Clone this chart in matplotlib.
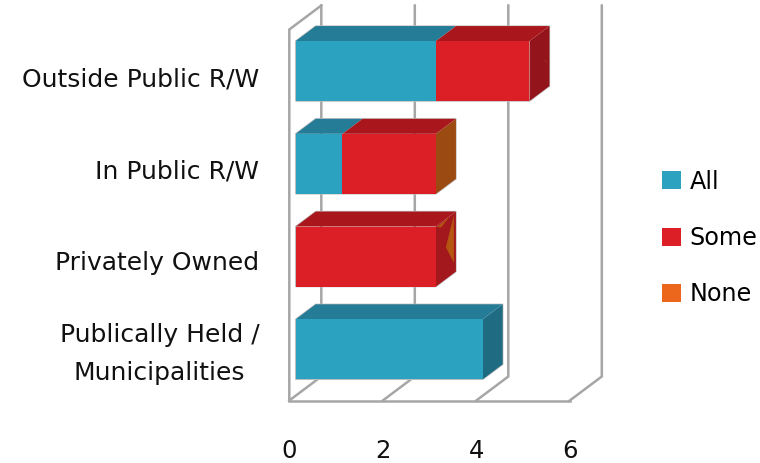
import numpy as np
import matplotlib
matplotlib.use("Agg")
import matplotlib.pyplot as plt
from matplotlib.patches import Polygon, Patch

plt.rcParams['font.family'] = ['DejaVu Sans']

categories = ["Publically Held /\nMunicipalities", "Privately Owned", "In Public R/W", "Outside Public R/W"]
all_vals = [4, 0, 1, 3]
some_vals = [0, 3, 2, 2]
none_vals = [0, 0, 0, 0]
x_ticks = [0, 2, 4, 6]
series_names = ["All", "Some", "None"]

colors = ['#2ba3c0', '#dc1f26', '#ec671c']
tops = ['#247c96', '#a9171d', '#a9171d']
sides = {0: '#1f6c82', 1: '#a3181d', 2: '#9b4a12', 3: '#93141a'}
grid_col = '#a6a6a6'
edge_col = '#bdbdbd'

# size of one unit in pixels, and the 3d shift of the chart depth
px_x = 46.75
px_y = 92.75
DX = 32 / px_x
DY = 24 / px_y
BAR_D0 = 0.2
BAR_D1 = 0.825
BAR_H = 0.647
Y_LOW = -0.5
Y_HIGH = 3.5
label_shift = [0.005, -0.016, -0.03, -0.04]


def proj(v, c, d=0):
    return (v + DX * d, c + DY * d)


def box_face(ax, pts, col, z, edge='none'):
    ax.add_patch(Polygon([proj(*p) for p in pts], closed=True, facecolor=col,
                         edgecolor=edge, lw=0.6, zorder=z))


def draw_seg(ax, c, start, stop, col, top_col, z):
    lo = c - BAR_H / 2
    hi = c + BAR_H / 2
    box_face(ax, [(start, hi, BAR_D0), (stop, hi, BAR_D0), (stop, hi, BAR_D1), (start, hi, BAR_D1)], top_col, z)
    box_face(ax, [(start, lo, BAR_D0), (stop, lo, BAR_D0), (stop, hi, BAR_D0), (start, hi, BAR_D0)], col, z)


fig = plt.figure(figsize=(7.6, 4.63), dpi=100)
ax = fig.add_axes([0, 0, 1, 1])
ax.set_xlim(-289.3 / px_x, (760 - 289.3) / px_x)
ax.set_ylim(Y_LOW - (463 - 400.5) / px_y, Y_LOW + 400.5 / px_y)
ax.axis('off')

# walls and floor
for t in x_ticks:
    xs, ys = zip(proj(t, Y_LOW, 0), proj(t, Y_LOW, 1), proj(t, Y_HIGH, 1))
    ax.plot(xs, ys, color=grid_col, lw=1.8, zorder=1, solid_joinstyle='miter')
xs, ys = zip(proj(0, Y_LOW, 0), proj(6, Y_LOW, 0))
ax.plot(xs, ys, color=grid_col, lw=1.8, zorder=1)
xs, ys = zip(proj(0, Y_LOW, 0), proj(0, Y_HIGH, 0), proj(0, Y_HIGH, 1))
ax.plot(xs, ys, color=grid_col, lw=1.8, zorder=1, solid_joinstyle='miter')

# bars
for i in range(len(categories)):
    z = 10 + (len(categories) - i)
    a = all_vals[i]
    s = some_vals[i]
    n = none_vals[i]
    end = a + s + n
    lo = i - BAR_H / 2
    hi = i + BAR_H / 2
    # outline behind the faces
    outline = [proj(0, lo, BAR_D0), proj(end, lo, BAR_D0), proj(end, lo, BAR_D1), proj(end, hi, BAR_D1),
               proj(0, hi, BAR_D1), proj(0, hi, BAR_D0)]
    ax.add_patch(Polygon(outline, closed=True, facecolor='none', edgecolor=edge_col, lw=1.0, zorder=z))
    box_face(ax, [(end, lo, BAR_D0), (end, lo, BAR_D1), (end, hi, BAR_D1), (end, hi, BAR_D0)], sides[i], z)
    if a > 0:
        draw_seg(ax, i, 0, a, colors[0], tops[0], z)
    if s > 0:
        draw_seg(ax, i, a, a + s, colors[1], tops[1], z)

# little orange slivers left on the end of two bars
box_face(ax, [(3, 1.30, 0.76), (3, 1.02, 0.51), (3, 0.79, 0.76)], '#b4560f', 13)
box_face(ax, [(3, 1.31, 0.23), (3, 1.317, 0.61), (3, 1.274, 0.36)], '#b4560f', 13)
box_face(ax, [(5, 3.03, 0.63), (5, 2.94, 0.77), (5, 2.96, 0.73)], '#c8601c', 12)

# category and value labels
for i, name in enumerate(categories):
    ax.text(-30 / px_x, i + label_shift[i], name, ha='right', va='center', ma='center', fontsize=18,
            linespacing=1.75, color='#111111')
for t in x_ticks:
    ax.text(t, -1.04, str(t), ha='center', va='center', fontsize=17.5, color='#111111')

handles = [Patch(facecolor=c, edgecolor='none') for c in colors]
leg = ax.legend(handles, series_names, loc='center left', bbox_to_anchor=(662 / 760, 1 - 238 / 463),
                frameon=False, fontsize=17.2, handlelength=0.8, handleheight=0.8,
                handletextpad=0.36, labelspacing=1.36, borderpad=0, borderaxespad=0)

fig.savefig('out.png', dpi=100)
